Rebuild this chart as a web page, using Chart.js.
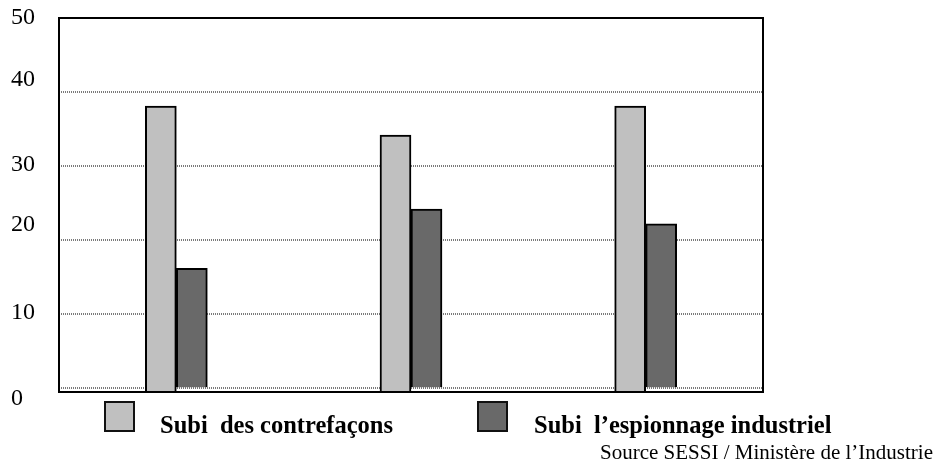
<!DOCTYPE html>
<html>
<head>
<meta charset="utf-8">
<script src="https://cdn.jsdelivr.net/npm/chart.js@4.4.1/dist/chart.umd.min.js"></script>
<style>
  html,body{margin:0;padding:0;background:#fff}
  #wrap{position:relative;width:935px;height:464px;font-family:'Liberation Serif','Times New Roman',serif}
  #wrap canvas{position:absolute;left:0;top:0}
  .lg-box{position:absolute;top:401px;width:27px;height:27px;border:2px solid #111}
  .lg-txt{position:absolute;top:413px;font-size:24.5px;line-height:24.5px;font-weight:700;color:#000;white-space:pre}
  .src{position:absolute;top:442px;right:2px;font-size:21px;line-height:21px;color:#000;white-space:pre}
</style>
</head>
<body>
<div id="wrap">
  <canvas id="chart" width="935" height="464"></canvas>
  <div id="legend"></div>
  <div class="src">Source SESSI / Ministère de l’Industrie</div>
</div>
<script>
// valeurs (en %)
const categories = ['1', '2', '3'];
const contrefacons = [38.1, 34.2, 38.1];
const espionnage = [16.2, 24.2, 22.2];
const seriesNames = ['Subi  des contrefaçons', 'Subi  l’espionnage industriel'];
const yTicks = [0, 10, 20, 30, 40, 50];

// décalage des libellés de l'axe (comme sur l'original)
const yLabelShift = [10, -2, -15, -1, -12, 0];

const frameAndLabels = {
  id: 'frameAndLabels',
  afterDatasetsDraw(chart) {
    const {ctx, chartArea: a, scales: {y}} = chart;
    ctx.save();
    ctx.strokeStyle = '#000';
    ctx.lineWidth = 2;
    ctx.strokeRect(a.left, a.top, a.right - a.left, a.bottom - a.top);
    ctx.fillStyle = '#000';
    ctx.font = '24px "Liberation Serif", serif';
    ctx.textAlign = 'left';
    ctx.textBaseline = 'middle';
    yTicks.forEach((v, i) => {
      ctx.fillText(String(v), 11, y.getPixelForValue(v) + yLabelShift[i]);
    });
    ctx.restore();
  }
};

const chart = new Chart(document.getElementById('chart'), {
  type: 'bar',
  data: {
    labels: categories,
    datasets: [
      {label: seriesNames[0], data: contrefacons, backgroundColor: '#c0c0c0', borderColor: '#000', borderWidth: 2, base: -0.5},
      {label: seriesNames[1], data: espionnage, backgroundColor: '#696969', borderColor: '#000', borderWidth: 2},
    ],
  },
  options: {
    responsive: false, animation: false,
    layout: {padding: {left: 59, right: 172, top: 18, bottom: 72}},
    barThickness: 31,
    plugins: {legend: {display: false}, tooltip: {enabled: false}},
    scales: {
      x: {display: false},
      y: {
        min: -0.5, max: 50,
        afterBuildTicks: s => { s.ticks = yTicks.map(v => ({value: v})); },
        ticks: {display: false},
        grid: {color: c => c.tick && c.tick.value === 50 ? 'rgba(0,0,0,0)' : '#7a7a7a', lineWidth: 2, drawTicks: false},
        border: {display: false, dash: [1, 1]},
      },
    },
  },
  plugins: [frameAndLabels],
});

// légende en bas
const legendPos = [[104, 160], [477, 534]];
document.getElementById('legend').innerHTML = chart.data.datasets.map((d, i) =>
  `<div class="lg-box" style="left:${legendPos[i][0]}px;background:${d.backgroundColor}"></div>` +
  `<div class="lg-txt" style="left:${legendPos[i][1]}px">${d.label}</div>`
).join('');
</script>
</body>
</html>
